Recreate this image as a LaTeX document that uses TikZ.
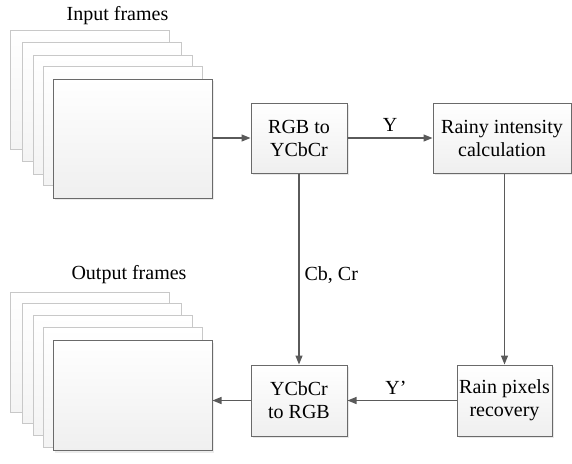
\documentclass[tikz,border=0pt]{standalone}
\usepackage{fontspec}
\setmainfont{Liberation Serif}
\usetikzlibrary{arrows.meta,shadows,calc}
\definecolor{edgegray}{HTML}{6A6A6A}
\definecolor{linegray}{HTML}{5A5A5A}
\definecolor{backedge}{HTML}{C8C8C8}
\definecolor{fillbot}{HTML}{EFEFEF}
\tikzset{
  procbox/.style={draw=edgegray, line width=1pt, top color=white, bottom color=fillbot,
    align=center, inner sep=0pt, font=\fontsize{20}{23}\selectfont,
    drop shadow={opacity=0.18, shadow xshift=2pt, shadow yshift=-2pt}},
  backframe/.style={draw=backedge, line width=0.9pt, top color=white, bottom color=fillbot!70!white},
  frontframe/.style={draw=edgegray, line width=1pt, top color=white, bottom color=fillbot,
    drop shadow={opacity=0.15, shadow xshift=2pt, shadow yshift=-2pt}},
  conn/.style={draw=linegray, line width=1.2pt, -{Triangle[length=9pt,width=7pt]}},
  lbl/.style={font=\fontsize{20}{23}\selectfont, inner sep=0pt}
}
\begin{document}
\begin{tikzpicture}[x=1pt,y=-1pt]
\useasboundingbox (0,0) rectangle (572,463);
% input frames
\foreach \dx/\dy in {-43/-49, -31/-37, -20/-24, -10/-13}{
  \path[backframe] (53+\dx,79+\dy) rectangle (212+\dx,198+\dy);
}
\node[frontframe, minimum width=159pt, minimum height=119pt, inner sep=0pt] (inf) at (132.5,138.5) {};
\node[lbl] (intitle) at (117.5,16) {Input frames};
% output frames
\foreach \dx/\dy in {-43/-48, -31/-37, -20/-25, -10/-13}{
  \path[backframe] (53+\dx,340+\dy) rectangle (212+\dx,460+\dy);
}
\node[frontframe, minimum width=159pt, minimum height=110pt, inner sep=0pt] (outf) at (132.5,395.5) {};
\node[lbl] (outtitle) at (129,275) {Output frames};
% process boxes
\node[procbox, minimum width=96pt, minimum height=70pt] (rgb) at (299,138) {RGB to\\YCbCr};
\node[procbox, minimum width=138pt, minimum height=70pt] (rainy) at (502,138) {Rainy intensity\\calculation};
\node[procbox, minimum width=96pt, minimum height=71pt] (ycc) at (299,400.5) {YCbCr\\to RGB};
\node[procbox, minimum width=95pt, minimum height=71pt] (rain) at (504.5,400.5) {Rain pixels\\recovery};
% connectors
\draw[conn] (inf.east |- rgb.west) -- (rgb.west);
\draw[conn] (rgb.east) -- (rainy.west) node[lbl, midway, above=6pt] (ylbl) {Y};
\draw[conn] (rainy.south -| rain.north) -- (rain.north);
\draw[conn] (rgb.south) -- (ycc.north) node[lbl, pos=0.53, right=5pt, anchor=west] (cbcr) {Cb, Cr};
\draw[conn] (rain.west) -- (ycc.east) node[lbl, midway, above=5pt, xshift=-6pt] (yplbl) {Y’};
\draw[conn] (ycc.west) -- (ycc.west -| outf.east);
\end{tikzpicture}
\end{document}
